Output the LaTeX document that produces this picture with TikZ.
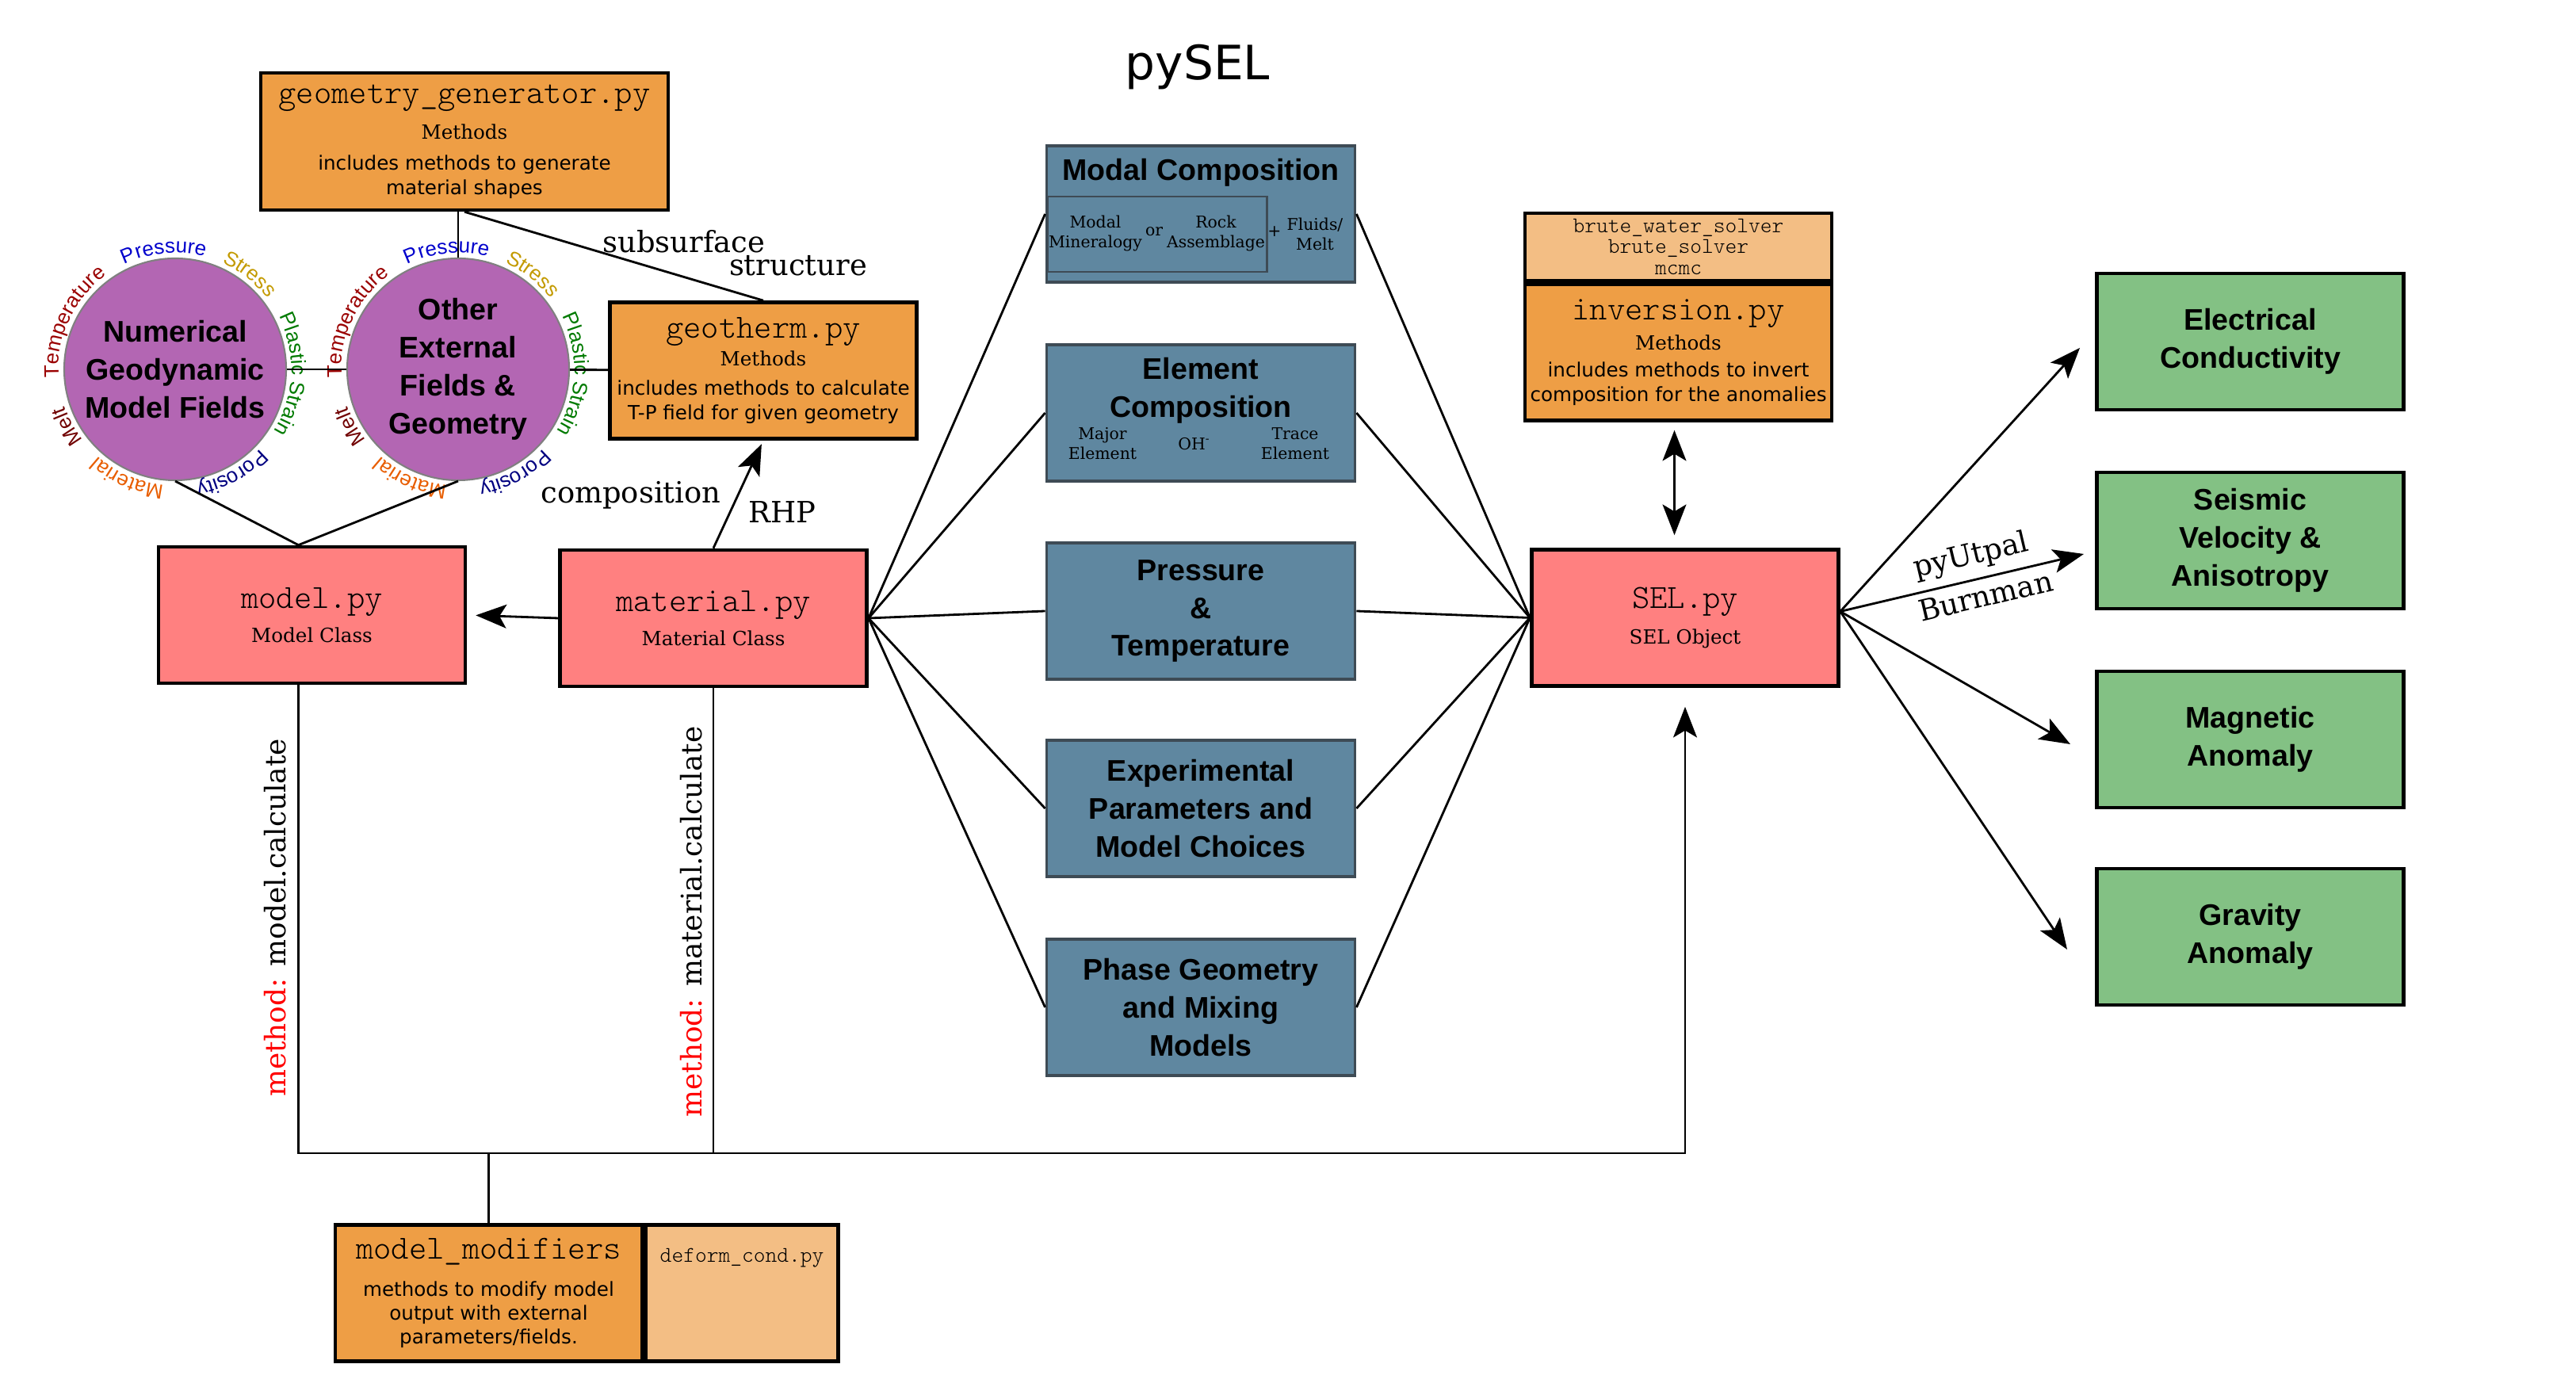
\documentclass[tikz,border=0pt]{standalone}
\usepackage{fontspec}
\setmainfont{DejaVu Serif}
\newfontfamily\sansf{DejaVu Sans}
\newfontfamily\arialf{Liberation Sans}
\newfontfamily\lightmono{lmmonolt10-regular}[Extension=.otf]
\usetikzlibrary{positioning,arrows.meta,decorations.text}

\definecolor{orangefill}{HTML}{EE9E45}
\definecolor{lightorange}{HTML}{F3BE84}
\definecolor{redfill}{HTML}{FF8080}
\definecolor{bluefill}{HTML}{5F87A0}
\definecolor{bluedraw}{HTML}{3E4B55}
\definecolor{greenfill}{HTML}{83C184}
\definecolor{purplefill}{HTML}{B366B3}
\definecolor{pressblue}{HTML}{0000CC}
\definecolor{stressgold}{HTML}{C39A00}
\definecolor{straingreen}{HTML}{007A00}
\definecolor{porosblue}{HTML}{000080}
\definecolor{materialorange}{HTML}{E85D00}
\definecolor{meltred}{HTML}{700000}
\definecolor{tempred}{HTML}{9A0000}

\newcommand\pyfile[1]{{\lightmono\fontsize{12.1}{13}\selectfont #1}}
\newcommand\boldsans{\arialf\bfseries\fontsize{10.7}{13.6}\selectfont}
\newcommand\ringfont{\arialf\fontsize{7.4}{9}\selectfont}

\tikzset{
  box/.style={draw=black, line width=1.3pt, minimum width=3.87cm, minimum height=1.72cm, align=center, inner sep=0pt},
  codebox/.style={box, fill=orangefill, font=\sansf\fontsize{7}{8.8}\selectfont},
  classbox/.style={box, fill=redfill, font=\fontsize{7}{8.5}\selectfont},
  databox/.style={draw=bluedraw, line width=1.1pt, fill=bluefill, minimum width=3.89cm, minimum height=1.72cm, align=center, inner sep=0pt, font=\boldsans},
  outbox/.style={box, fill=greenfill, minimum width=3.87cm, minimum height=1.72cm, font=\boldsans},
  fieldcirc/.style={circle, draw=gray, line width=0.6pt, fill=purplefill, minimum size=2.8cm, inner sep=0pt, align=center, font=\boldsans},
  boxtitle/.style={font=\boldsans, align=center, inner sep=0pt},
  tinytext/.style={font=\fontsize{5.8}{7.1}\selectfont, align=center, inner sep=0pt},
  tag/.style={font=\fontsize{10.5}{12}\selectfont, inner sep=0pt},
  link/.style={line width=0.8pt},
  flow/.style={link, -{Stealth[length=11pt,width=8.5pt,inset=2.5pt]}},
  dblflow/.style={link, {Stealth[length=11pt,width=8.5pt,inset=2.5pt]}-{Stealth[length=11pt,width=8.5pt,inset=2.5pt]}},
}

% field names written round a circle
\newcommand\ringlabels[1]{%
  \foreach \ang/\col/\txt in {95.5/pressblue/Pressure, 52/stressgold/Stress, -2.5/straingreen/Plastic Strain, -61.5/porosblue/Porosity, -113.5/materialorange/Material, -152/meltred/Melt, 155/tempred/Temperature}{
    \path[decorate, decoration={text along path, text align=center, text color=\col, text/.expanded={|\noexpand\ringfont|\txt}}]
      (#1) ++({\ang+45}:1.47) arc[start angle=\ang+45, end angle=\ang-45, radius=1.47];}}

\begin{document}
\begin{tikzpicture}
\useasboundingbox (0,0) rectangle (32.5,17.5);
\node[font=\sansf\fontsize{17}{20}\selectfont] (title) at (15.11,16.65) {pySEL};

% inputs: geometry, geotherm, fields
\node[codebox, minimum width=5.14cm, minimum height=1.73cm] (geogen) at (5.86,15.715) {\pyfile{geometry\_generator.py}\\[4pt]{\rmfamily Methods}\\[2.3pt]includes methods to generate\\material shapes};
\node[codebox] (geotherm) at (9.63,12.825) {\pyfile{geotherm.py}\\[1.2pt]{\rmfamily Methods}\\[1.7pt]includes methods to calculate\\T-P field for given geometry};
\node[fieldcirc] (numgeo) at (2.21,12.84) {Numerical\\Geodynamic\\Model Fields};
\node[fieldcirc] (extgeo) at (5.78,12.84) {Other\\External\\Fields \&\\Geometry};
\ringlabels{numgeo}
\ringlabels{extgeo}

% classes
\node[classbox] (model) at (3.935,9.74) {\pyfile{model.py}\\[3.8pt]Model Class};
\node[classbox] (material) at (9.0,9.70) {\pyfile{material.py}\\[3.8pt]Material Class};
\node[classbox] (sel) at (21.26,9.705) {\pyfile{SEL.py}\\[4.3pt]SEL Object};

% data the SEL object needs
\node[databox] (modal) at (15.15,14.80) {};
\node[boxtitle, below=0.18cm of modal.north] (modaltitle) {Modal Composition};
\node[draw=bluedraw, line width=0.6pt, minimum width=2.77cm, minimum height=0.95cm] (modalin) at (14.60,14.545) {};
\node[tinytext] (mineral) at (13.82,14.55) {Modal\\Mineralogy};
\node[tinytext] (or) at (14.56,14.58) {or};
\node[tinytext] (rock) at (15.34,14.55) {Rock\\Assemblage};
\node[tinytext] (plus) at (16.08,14.58) {+};
\node[tinytext] (fluids) at (16.59,14.55) {Fluids/\\Melt};
\node[databox] (element) at (15.15,12.29) {};
\node[boxtitle, below=0.18cm of element.north] (elementtitle) {Element\\Composition};
\node[tinytext] (major) at (13.91,11.90) {Major\\Element};
\node[tinytext] (oh) at (15.07,11.90) {OH\textsuperscript{-}};
\node[tinytext] (trace) at (16.34,11.90) {Trace\\Element};
\node[databox] (ptbox) at (15.15,9.79) {Pressure\\\&\\Temperature};
\node[databox] (expbox) at (15.15,7.30) {Experimental\\Parameters and\\Model Choices};
\node[databox] (phasebox) at (15.15,4.79) {Phase Geometry\\and Mixing\\Models};

% inversion
\node[codebox] (inversion) at (21.175,13.055) {\pyfile{inversion.py}\\[2pt]{\rmfamily Methods}\\[0.9pt]includes methods to invert\\composition for the anomalies};
\node[box, fill=lightorange, minimum height=0.85cm, anchor=south, font=\lightmono\fontsize{8}{7.5}\selectfont] (solvers) at (inversion.north) {brute\_water\_solver\\brute\_solver\\mcmc};

% outputs
\node[outbox] (conduct) at (28.39,13.19) {Electrical\\Conductivity};
\node[outbox] (seismic) at (28.39,10.68) {Seismic\\Velocity \&\\Anisotropy};
\node[outbox] (magnetic) at (28.39,8.17) {Magnetic\\Anomaly};
\node[outbox] (gravity) at (28.39,5.68) {Gravity\\Anomaly};

% modifiers
\node[codebox, font=\sansf\fontsize{7}{8.5}\selectfont] (modmod) at (6.165,1.185) {\pyfile{model\_modifiers}\\[4.9pt]methods to modify model\\output with external\\parameters/fields.};
\node[box, fill=lightorange, minimum width=2.43cm, anchor=west, label={[anchor=north, inner sep=0pt, yshift=-0.31cm, font=\lightmono\fontsize{8}{9}\selectfont]north:deform\_cond.py}] (deform) at (modmod.east) {};

% connectors
\draw[link] (numgeo) -- (extgeo);
\draw[link] (extgeo) -- (geotherm);
\draw[link] (geogen.south -| extgeo) -- (extgeo.north);
\draw[link] (geogen.south) -- (geotherm.north);
\node[tag] (subsurf) at (8.63,14.45) {subsurface};
\node[tag] (struct) at (10.07,14.15) {structure};
\coordinate (mtop) at ([xshift=-0.17cm]model.north);
\draw[link] (numgeo.south) -- (mtop) -- (extgeo.south);
\draw[flow, shorten >=0.11cm] (material.west) -- (model.east);
\draw[flow, shorten >=0.05cm] (material.north) -- (geotherm.south);
\node[tag] (comp) at (7.96,11.25) {composition};
\node[tag] (rhp) at (9.87,11.04) {RHP};
\foreach \b in {modal,element,ptbox,expbox,phasebox}{
  \draw[link] (material.east) -- (\b.west);
  \draw[link] (sel.west) -- (\b.east);}
\coordinate (invbot) at ([xshift=-0.05cm]inversion.south);
\draw[dblflow, shorten <=0.1cm, shorten >=0.16cm] (invbot) -- (invbot |- sel.north);
\coordinate (selout) at ([yshift=0.08cm]sel.east);
\coordinate (tipc) at (26.24,13.11);
\coordinate (tips) at (26.29,10.51);
\coordinate (tipm) at (26.12,8.11);
\coordinate (tipg) at (26.08,5.52);
\foreach \t in {tipc,tipm,tipg}
  \draw[flow] (selout) -- (\t);
\draw[flow] (selout) -- (tips) node[tag, pos=0.56, above=0.1cm, sloped]{pyUtpal} node[tag, pos=0.58, below=0.08cm, sloped]{Burnman};

% calculate bus
\coordinate (busy) at (0,2.95);
\coordinate (mbot) at ([xshift=-0.17cm]model.south);
\draw[flow, shorten >=0.24cm] (mbot) -- (mbot |- busy) -| (sel.south);
\draw[link] (material.south) -- (material.south |- busy);
\draw[link] (modmod.north) -- (modmod.north |- busy);
\node[tag, rotate=90, font=\fontsize{10.2}{11}\selectfont] (modelcalc) at (3.47,5.92) {\textcolor{red}{method:} model.calculate};
\node[tag, rotate=90, font=\fontsize{10.2}{11}\selectfont] (matcalc) at (8.72,5.87) {\textcolor{red}{method:} material.calculate};
\end{tikzpicture}
\end{document}
